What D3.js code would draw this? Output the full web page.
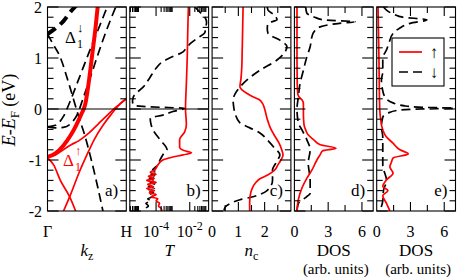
<!DOCTYPE html>
<meta charset="utf-8">
<script src="https://d3js.org/d3.v7.min.js"></script>
<style>
body { margin: 0; background: #fff; }
svg { display: block; }
</style>
<body>
<script>
// ---- panel a: bands along Gamma-H, [kz, E] (kz 0 = Gamma, 1 = H) ----
const bandUpThick = [[0,-0.94],[0.1,-0.87],[0.2,-0.72],[0.3,-0.5],[0.37,-0.3],[0.43,-0.1],[0.48,0.1],[0.53,0.6],[0.57,1.1],[0.61,1.6],[0.64,2.05]];
const bandUpA = [[0.19,-2.05],[0.3,-1.65],[0.4,-1.25],[0.5,-0.9],[0.6,-0.58],[0.7,-0.33],[0.8,-0.12],[0.92,0.1],[1,0.2]];
const bandUpB = [[0,-0.94],[0.1,-0.9],[0.2,-0.8],[0.3,-0.7],[0.4,-0.62],[0.52,-0.48],[0.64,-0.3],[0.76,-0.12],[0.88,0.05],[1,0.2]];
const bandUpC = [[0,-0.96],[0.08,-1.1],[0.16,-1.39],[0.28,-1.72],[0.37,-2.05]];
const bandDnThick = [[0,1.47],[0.1,1.58],[0.2,1.72],[0.3,1.92],[0.41,2.1]];
const bandDnA = [[0,1.47],[0.06,1.3],[0.16,1.02],[0.28,0.45],[0.41,-0.22],[0.47,-0.5],[0.54,-0.9],[0.64,-1.55],[0.71,-2.05]];
const bandDnB = [[0,-0.35],[0.1,-0.37],[0.2,-0.36],[0.3,-0.28],[0.38,-0.1],[0.45,0.2],[0.55,0.65],[0.68,1.25],[0.8,1.75],[0.88,2.05]];
const bandDnC = [[0,-0.35],[0.1,-0.32],[0.2,-0.15],[0.3,0.2],[0.4,0.6],[0.55,1.2],[0.68,1.7],[0.77,2.05]];

// ---- panel b: transmission T(E) ----
const tUpE = [2.0,1.5,1.0,0.5,0.0,-0.3,-0.45,-0.6,-0.75,-0.82,-0.86,-0.9,-0.95,-1.0,-1.1,-1.2,-1.24,-1.28,-1.32,-1.36,-1.4,-1.44,-1.48,-1.52,-1.56,-1.6,-1.64,-1.68,-1.72,-1.76,-1.8,-1.85,-1.9,-1.95,-2.0];
const tUp = [8.3e-3,7.6e-3,7.1e-3,6.3e-3,5.6e-3,6.3e-3,5.0e-3,2.5e-3,2.5e-3,5.0e-3,1.26e-2,4.0e-3,7.9e-4,2.5e-4,1.26e-4,7.9e-5,4.5e-5,1.0e-4,3.5e-5,7.9e-5,2.8e-5,1.0e-4,3.2e-5,7.1e-5,2.8e-5,7.9e-5,4.0e-5,1.0e-4,5.0e-5,1.26e-4,1.0e-4,1.6e-4,1.4e-4,2.0e-4,2.2e-4];
const tDnE = [2.0,1.9,1.8,1.7,1.6,1.5,1.4,1.3,1.2,1.12,1.0,0.93,0.8,0.6,0.43,0.3,0.24,0.15,0.08,0.05,0.03,0.015,0.0,-0.05,-0.12,-0.18,-0.3,-0.41,-0.6,-0.8,-0.9,-1.0,-1.1,-1.2,-1.24,-1.28,-1.32,-1.36,-1.4,-1.44,-1.48,-1.52,-1.56,-1.6,-1.64,-1.68,-1.72,-1.76,-1.8,-1.85,-1.9,-1.95,-2.0];
const tDn = [2.0e-2,4.0e-2,7.9e-2,1.0e-1,8.9e-2,7.9e-2,3.2e-2,1.26e-2,6.3e-3,4.0e-3,6.3e-4,2.5e-4,1.0e-4,4.0e-5,1.7e-5,6.3e-6,4.5e-6,4.0e-6,4.5e-6,1.6e-5,3.2e-4,5.0e-3,4.0e-3,1.0e-3,2.5e-4,4.5e-5,5.0e-5,6.6e-5,1.7e-4,4.5e-4,2.5e-4,1.7e-4,1.26e-4,6.3e-5,1.26e-4,5.0e-5,1.1e-4,4.0e-5,1.0e-4,4.5e-5,8.9e-5,3.5e-5,7.9e-5,4.0e-5,7.1e-5,3.5e-5,6.3e-5,3.2e-5,5.0e-5,2.5e-5,3.5e-5,2.5e-5,4.0e-5];

// ---- panel c: n_c(E) ----
const ncUpE = [2.0,1.5,1.0,0.82,0.6,0.43,0.37,0.3,0.24,0.18,0.1,0.0,-0.2,-0.35,-0.5,-0.67,-0.8,-0.9,-1.0,-1.1,-1.2,-1.3,-1.36,-1.45,-1.55,-1.7,-1.85,-2.0];
const ncUp = [1.18,1.16,1.14,1.13,1.1,1.06,1.15,1.35,1.55,1.8,1.93,2.0,2.1,2.2,2.35,2.55,2.65,2.7,2.62,2.5,2.38,2.1,1.85,1.65,1.53,1.45,1.43,1.43];
const ncDnE = [2.0,1.94,1.85,1.75,1.68,1.58,1.48,1.35,1.22,1.1,0.96,0.76,0.57,0.43,0.3,0.18,0.05,-0.08,-0.27,-0.37,-0.47,-0.6,-0.75,-0.9,-1.0,-1.2,-1.4,-1.6,-1.72,-1.78,-1.85,-1.92,-2.0];
const ncDn = [2.1,2.13,2.35,2.47,2.13,2.1,2.13,2.58,2.85,2.75,2.47,1.82,1.33,1.06,0.88,0.8,0.82,0.87,1.06,1.44,1.82,2.09,2.35,2.58,2.5,2.3,2.3,2.09,1.56,1.06,0.7,0.5,0.45];

// ---- panel d: DOS ----
const dosDUpE = [2.0,1.0,0.5,0.3,0.24,0.18,0.1,-0.1,-0.3,-0.41,-0.5,-0.6,-0.7,-0.77,-0.82,-0.9,-1.0,-1.2,-1.36,-1.55,-1.78,-2.0];
const dosDUp = [0.23,0.23,0.25,0.3,0.4,0.67,0.8,0.8,0.85,1.0,1.2,1.7,2.3,3.7,2.5,2.28,2.0,1.55,1.1,0.67,0.35,0.23];
const dosDDnE = [2.0,1.88,1.8,1.75,1.71,1.68,1.61,1.5,1.41,1.22,1.02,0.76,0.5,0.24,0.0,-0.27,-0.41,-0.6,-0.8,-1.06,-1.4,-1.65,-1.72,-1.85,-2.0];
const dosDDn = [1.0,1.1,1.8,2.55,5.4,4.0,2.28,1.7,1.55,1.4,1.1,0.8,0.5,0.35,0.23,0.35,0.67,1.1,1.4,1.23,1.4,1.4,1.1,0.35,0.23];

// ---- panel e: DOS ----
const dosEUpE = [2.0,1.0,0.0,-0.2,-0.41,-0.55,-0.67,-0.8,-0.88,-0.96,-1.05,-1.13,-1.26,-1.39,-1.52,-1.6,-1.7,-1.85,-2.0];
const dosEUp = [0.12,0.2,0.27,0.35,0.54,0.87,1.45,2.06,2.8,1.45,1.3,1.17,1.45,0.87,0.54,1.0,0.54,0.87,1.17];
const dosEDnE = [2.0,1.94,1.85,1.8,1.75,1.68,1.58,1.48,1.3,1.16,1.0,0.73,0.57,0.4,0.24,0.12,0.06,0.03,0.015,0.0,-0.02,-0.08,-0.16,-0.35,-0.55,-0.8,-1.1,-1.4,-1.6,-1.8,-2.0];
const dosEDn = [0.6,0.87,1.6,2.3,4.46,2.96,2.0,1.45,1.1,0.87,0.54,0.54,0.42,0.5,0.72,1.45,2.5,4.46,6.9,4.0,2.06,1.0,0.54,0.42,0.54,0.54,0.54,0.87,0.6,0.54,0.27];

// tick labels
const eTicks = [2, 1, 0, -1, -2];
const kLabels = ["\u0393", "H"];
const tLabelExp = [-4, -2];
const ncTicks = [0, 1, 2];
const dosTicks = [0, 3, 6];

// ---- layout ----
const width = 463, height = 279;
const yTop = 7, yBot = 211;
const panelX = [47.5, 129.8, 212.1, 294.4, 376.7], panelW = 78.8;
const red = "#ff0000";
const serif = "Liberation Serif, Times New Roman, Times, Tinos, Nimbus Roman, DejaVu Serif, Noto Serif, serif";

const svg = d3.select("body").append("svg")
  .attr("width", width).attr("height", height)
  .style("font-family", serif);

const eScale = d3.scaleLinear().domain([-2, 2]).range([yBot, yTop]);
const xs = [
  d3.scaleLinear().domain([0, 1]).range([panelX[0], panelX[0] + panelW]),
  d3.scaleLog().domain([Math.pow(10, -5.56), Math.pow(10, -0.88)]).range([panelX[1], panelX[1] + panelW]),
  d3.scaleLinear().domain([0, 3]).range([panelX[2], panelX[2] + panelW]),
  d3.scaleLinear().domain([0, 7]).range([panelX[3], panelX[3] + panelW]),
  d3.scaleLinear().domain([0, 7]).range([panelX[4], panelX[4] + panelW])
];

// clip paths
const defs = svg.append("defs");
panelX.forEach((x0, i) => {
  defs.append("clipPath").attr("id", "clip" + i)
    .append("rect").attr("x", x0).attr("y", yTop).attr("width", panelW).attr("height", yBot - yTop);
});

const layers = panelX.map((x0, i) => svg.append("g").attr("clip-path", `url(#clip${i})`));

// band lines (panel a)
const bandLine = d3.line().x(d => xs[0](d[0])).y(d => eScale(d[1])).curve(d3.curveMonotoneX);
function drawBand(pts, color, w, dash) {
  layers[0].append("path").datum(pts)
    .attr("d", bandLine).attr("fill", "none")
    .attr("stroke", color).attr("stroke-width", w)
    .attr("stroke-dasharray", dash || null);
}
drawBand(bandUpA, red, 1.7);
drawBand(bandUpB, red, 1.7);
drawBand(bandUpC, red, 1.7);
drawBand(bandDnA, "#000", 1.7, "9,5");
drawBand(bandDnB, "#000", 1.7, "9,5");
drawBand(bandDnC, "#000", 1.7, "9,5");
drawBand(bandDnThick, "#000", 4, "10,6");
drawBand(bandUpThick, red, 4);

// energy-resolved curves (panels b-e)
function drawE(i, es, vals, color, dash) {
  const pts = d3.zip(es, vals);
  const line = d3.line().x(d => xs[i](d[1])).y(d => eScale(d[0])).curve(d3.curveMonotoneY);
  layers[i].append("path").datum(pts)
    .attr("d", line).attr("fill", "none")
    .attr("stroke", color).attr("stroke-width", 1.7)
    .attr("stroke-dasharray", dash || null);
}
drawE(1, tDnE, tDn, "#000", "9,5");
drawE(1, tUpE, tUp, red);
drawE(2, ncDnE, ncDn, "#000", "9,5");
drawE(2, ncUpE, ncUp, red);
drawE(3, dosDDnE, dosDDn, "#000", "9,5");
drawE(3, dosDUpE, dosDUp, red);
drawE(4, dosEDnE, dosEDn, "#000", "9,5");
drawE(4, dosEUpE, dosEUp, red);

// Fermi level line in a) and b)
[0, 1].forEach(i => {
  svg.append("line")
    .attr("x1", panelX[i]).attr("x2", panelX[i] + panelW)
    .attr("y1", eScale(0)).attr("y2", eScale(0))
    .attr("stroke", "#000").attr("stroke-width", 1.2);
});

// frames + ticks
const axisG = svg.append("g").attr("stroke", "#000").attr("stroke-width", 1.1);
const eMinor = d3.range(-2, 2.001, 0.2).map(v => Math.round(v * 10) / 10);
panelX.forEach((x0, i) => {
  axisG.append("rect").attr("x", x0).attr("y", yTop).attr("width", panelW).attr("height", yBot - yTop)
    .attr("fill", "none");
  eMinor.forEach(v => {
    const len = Number.isInteger(v) ? 11 : 6;
    const y = eScale(v);
    axisG.append("line").attr("x1", x0).attr("x2", x0 + len).attr("y1", y).attr("y2", y);
    axisG.append("line").attr("x1", x0 + panelW).attr("x2", x0 + panelW - len).attr("y1", y).attr("y2", y);
  });
});

function xTick(x, len) {
  axisG.append("line").attr("x1", x).attr("x2", x).attr("y1", yTop).attr("y2", yTop + len);
  axisG.append("line").attr("x1", x).attr("x2", x).attr("y1", yBot).attr("y2", yBot - len);
}
// log ticks for b)
[-6, -4, -2].forEach(p => {
  const base = Math.pow(10, p);
  if (p > -6) xTick(xs[1](base), 9);
  d3.range(2, 10).forEach(k => {
    const x = xs[1](k * base);
    if (x > panelX[1] && x < panelX[1] + panelW) xTick(x, 5);
  });
});
// n_c ticks
d3.range(0.5, 3, 0.5).forEach(v => xTick(xs[2](v), Number.isInteger(v) ? 9 : 6));
// DOS ticks
[3, 4].forEach(i => {
  [1.5, 3, 4.5, 6].forEach(v => xTick(xs[i](v), v % 3 === 0 ? 9 : 6));
});

// ---- text ----
const txt = svg.append("g").attr("fill", "#000");

// y tick labels
eTicks.forEach(v => {
  txt.append("text").attr("x", 42).attr("y", eScale(v)).attr("dy", "0.35em")
    .attr("text-anchor", "end").attr("font-size", 16).text(v);
});

// y title
const yt = txt.append("text").attr("transform", "translate(15,110) rotate(-90)")
  .attr("text-anchor", "middle").attr("font-size", 18);
yt.append("tspan").attr("font-style", "italic").text("E");
yt.append("tspan").text("-");
yt.append("tspan").attr("font-style", "italic").text("E");
yt.append("tspan").attr("font-size", 13).attr("dy", 4).text("F");
yt.append("tspan").attr("dy", -4).text(" (eV)");

const labY = 237;
// a) tick labels
kLabels.forEach((s, j) => {
  txt.append("text").attr("x", xs[0](j)).attr("y", labY).attr("text-anchor", "middle")
    .attr("font-size", 16).text(s);
});
// b) tick labels
tLabelExp.forEach(p => {
  const t = txt.append("text").attr("x", xs[1](Math.pow(10, p))).attr("y", labY)
    .attr("text-anchor", "middle").attr("font-size", 16);
  t.append("tspan").text("10");
  t.append("tspan").attr("font-size", 12).attr("dy", -7).text(p);
});
// c) tick labels
ncTicks.forEach(v => {
  txt.append("text").attr("x", xs[2](v)).attr("y", labY).attr("text-anchor", "middle")
    .attr("font-size", 16).text(v);
});
// d), e) tick labels
[3, 4].forEach(i => {
  dosTicks.forEach(v => {
    txt.append("text").attr("x", xs[i](v)).attr("y", labY).attr("text-anchor", "middle")
      .attr("font-size", 16).text(v);
  });
});

// x titles
const cx = panelX.map(x0 => x0 + panelW / 2);
const titleY = 256;
let t = txt.append("text").attr("x", cx[0]).attr("y", titleY).attr("text-anchor", "middle").attr("font-size", 17);
t.append("tspan").attr("font-style", "italic").text("k");
t.append("tspan").attr("font-size", 12).attr("dy", 4).text("z");
txt.append("text").attr("x", cx[1]).attr("y", titleY).attr("text-anchor", "middle").attr("font-size", 17)
  .attr("font-style", "italic").text("T");
t = txt.append("text").attr("x", cx[2]).attr("y", titleY).attr("text-anchor", "middle").attr("font-size", 17);
t.append("tspan").attr("font-style", "italic").text("n");
t.append("tspan").attr("font-size", 12).attr("dy", 4).text("c");
[3, 4].forEach(i => {
  txt.append("text").attr("x", cx[i]).attr("y", titleY).attr("text-anchor", "middle").attr("font-size", 17).text("DOS");
  txt.append("text").attr("x", cx[i] + 2).attr("y", 274).attr("text-anchor", "middle").attr("font-size", 15).text("(arb. units)");
});

// panel letters
["a)", "b)", "c)", "d)", "e)"].forEach((s, i) => {
  txt.append("text").attr("x", panelX[i] + panelW - 8).attr("y", 196).attr("text-anchor", "end")
    .attr("font-size", 17).text(s);
});

// band labels in a)
function deltaLabel(x, y, arrow, color) {
  const g = txt.append("g").attr("fill", color);
  g.append("text").attr("x", x).attr("y", y).attr("font-size", 17).text("\u0394");
  g.append("text").attr("x", x + 12).attr("y", y + 5).attr("font-size", 12).text("1");
  g.append("text").attr("x", x + 12).attr("y", y - 11).attr("font-size", 13).text(arrow);
}
deltaLabel(65, 43, "\u2193", "#000");
deltaLabel(63, 166, "\u2191", red);

// legend in e)
const lg = svg.append("g");
lg.append("rect").attr("x", 392).attr("y", 38).attr("width", 52).attr("height", 48)
  .attr("fill", "#fff").attr("stroke", "#000").attr("stroke-width", 1.1);
lg.append("line").attr("x1", 399).attr("x2", 422).attr("y1", 52).attr("y2", 52)
  .attr("stroke", red).attr("stroke-width", 1.7);
lg.append("line").attr("x1", 399).attr("x2", 422).attr("y1", 72).attr("y2", 72)
  .attr("stroke", "#000").attr("stroke-width", 1.7).attr("stroke-dasharray", "9,5");
lg.append("text").attr("x", 434).attr("y", 52).attr("dy", "0.35em").attr("text-anchor", "middle")
  .attr("font-size", 17).text("\u2191");
lg.append("text").attr("x", 434).attr("y", 72).attr("dy", "0.35em").attr("text-anchor", "middle")
  .attr("font-size", 17).text("\u2193");
</script>
</body>
